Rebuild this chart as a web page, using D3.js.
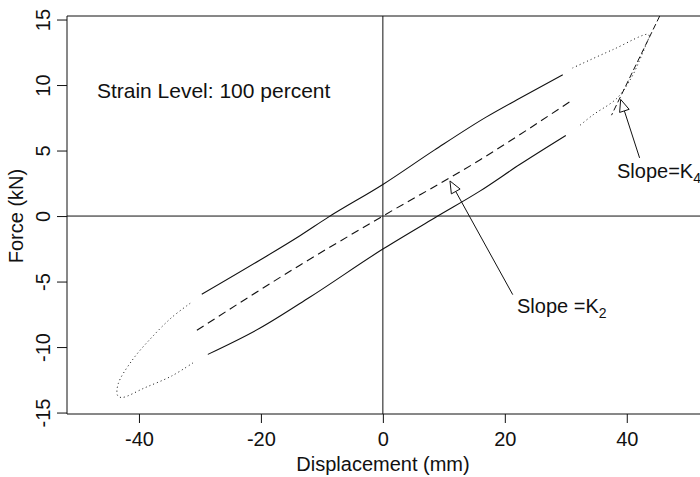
<!DOCTYPE html>
<html>
<head>
<meta charset="utf-8">
<script src="https://cdn.jsdelivr.net/npm/d3@7"></script>
<style>
  html, body { margin: 0; padding: 0; background: #fff; }
  svg { display: block; font-family: "Liberation Sans", Arial, Helvetica, sans-serif; }
</style>
</head>
<body>
<svg id="chart" width="700" height="477"></svg>
<script>
// Hysteresis loop of an elastomeric bearing, 100 % shear strain.
// Each branch is a list of [displacement (mm), force (kN)] points.
const xTicks = [-40, -20, 0, 20, 40];
const yTicks = [-15, -10, -5, 0, 5, 10, 15];

// solid middle portions of the loop
const upperBranch = [[-29.7,-5.97],[-20.2,-3.37],[-13.6,-1.5],[-9.0,-0.1],[0,2.41],[8.5,5.05],[17.0,7.57],[22.0,8.88],[29.5,10.79]];
const lowerBranch = [[-28.7,-10.56],[-20.2,-8.57],[-12.0,-6.2],[0,-2.52],[9.0,0],[15.9,1.9],[22.5,3.95],[30.0,6.15]];
// dotted loop ends (stiffening near peak displacement)
const rightTip = [[31.1,11.3],[37.7,12.7],[43.6,13.85],[43.0,12.9],[42.1,11.9],[40.8,10.6],[38.4,9.0],[34.4,7.7],[32.0,6.8]];
const leftTip = [[-31.6,-6.66],[-34.6,-7.73],[-37.9,-9.26],[-41.1,-11.0],[-43.4,-12.8],[-43.5,-13.7],[-42.8,-13.85],[-39.0,-13.1],[-34.6,-12.2],[-30.8,-11.1]];
// dashed secant line through the origin (K2)
const meanLine = [[-30.5,-8.72],[-13.6,-3.75],[0,0],[15.9,4.28],[30.7,8.74]];
// tangent at the loop tip (K4)
const k4Line = [[45.4,15.27],[37.5,7.7]];

// annotations: arrow tip, arrow tail, label anchor, label text, subscript
const notes = [
  { tip: [11.0, 2.68], tail: [21.3, -6.0], at: [22.0, -7.4], text: "Slope =K", sub: "2" },
  { tip: [39.0, 8.9],  tail: [42.1, 4.44], at: [38.4, 2.9],  text: "Slope=K",  sub: "4" }
];
const levelLabel = { at: [-46.9, 9.0], text: "Strain Level: 100 percent" };

const xDomain = [-51.8, 52.5];
const yDomain = [-15.11, 15.27];

const svg = d3.select("#chart");
const plotLeft = 67, plotRight = 703, plotTop = 16, plotBottom = 414;

const x = d3.scaleLinear().domain(xDomain).range([plotLeft, plotRight]);
const y = d3.scaleLinear().domain(yDomain).range([plotBottom, plotTop]);

svg.append("defs").append("clipPath").attr("id", "plot")
  .append("rect").attr("x", plotLeft).attr("y", plotTop)
  .attr("width", plotRight - plotLeft).attr("height", plotBottom - plotTop);

const ink = "#111";
const plain = d => String(d);   // ASCII hyphen for negatives

// axes
const xAxis = svg.append("g").attr("transform", `translate(0,${plotBottom})`)
  .call(d3.axisBottom(x).tickValues(xTicks).tickSize(9).tickFormat(plain));
xAxis.select(".domain").remove();
xAxis.selectAll("line").attr("stroke", ink);
xAxis.selectAll("text").attr("font-size", 20).attr("fill", ink).attr("font-family", null)
  .attr("dy", null).attr("y", 32);

const yAxis = svg.append("g").attr("transform", `translate(${plotLeft},0)`)
  .call(d3.axisLeft(y).tickValues(yTicks).tickSize(10).tickFormat(plain));
yAxis.select(".domain").remove();
yAxis.selectAll("line").attr("stroke", ink);
yAxis.selectAll("text").attr("font-size", 20).attr("fill", ink).attr("font-family", null)
  .attr("x", null).attr("dy", null).attr("text-anchor", "middle")
  .attr("transform", "translate(-17,0) rotate(-90)");

// frame
svg.append("path")
  .attr("d", `M${plotRight},${plotTop}H${plotLeft}V${plotBottom}H${plotRight}`)
  .attr("fill", "none").attr("stroke", ink).attr("stroke-width", 1);

// axis titles
svg.append("text").attr("x", (plotLeft + plotRight) / 2 - 2).attr("y", 471)
  .attr("text-anchor", "middle").attr("font-size", 20).attr("fill", ink)
  .text("Displacement (mm)");
svg.append("text").attr("transform", `translate(23,${y(0)}) rotate(-90)`)
  .attr("text-anchor", "middle").attr("font-size", 20).attr("fill", ink)
  .text("Force (kN)");

const plot = svg.append("g").attr("clip-path", "url(#plot)");

// zero reference lines
plot.append("line").attr("x1", plotLeft).attr("x2", plotRight).attr("y1", y(0)).attr("y2", y(0))
  .attr("stroke", ink).attr("stroke-width", 1);
plot.append("line").attr("x1", x(0)).attr("x2", x(0)).attr("y1", plotTop).attr("y2", plotBottom)
  .attr("stroke", ink).attr("stroke-width", 1);

const monotone = d3.line().x(d => x(d[0])).y(d => y(d[1])).curve(d3.curveMonotoneX);
const smooth = d3.line().x(d => x(d[0])).y(d => y(d[1])).curve(d3.curveCatmullRom.alpha(0.5));
const straight = d3.line().x(d => x(d[0])).y(d => y(d[1]));

const draw = (data, gen, dash, width) => plot.append("path").datum(data)
  .attr("d", gen).attr("fill", "none").attr("stroke", ink)
  .attr("stroke-width", width).attr("stroke-dasharray", dash);

draw(upperBranch, monotone, null, 1.1);
draw(lowerBranch, monotone, null, 1.1);
draw(rightTip, smooth, "1,3", 1);
draw(leftTip, smooth, "1,3", 1);
draw(meanLine, monotone, "8,5", 1.1);
draw(k4Line, straight, "6,3", 1);

// annotation arrows with open triangular heads
notes.forEach(n => {
  const tx = x(n.tip[0]), ty = y(n.tip[1]);
  const sx = x(n.tail[0]), sy = y(n.tail[1]);
  const len = Math.hypot(tx - sx, ty - sy);
  const ux = (tx - sx) / len, uy = (ty - sy) / len;
  const hl = 12, hw = 5;
  const bx = tx - ux * hl, by = ty - uy * hl;
  svg.append("line").attr("x1", sx).attr("y1", sy).attr("x2", bx).attr("y2", by)
    .attr("stroke", ink).attr("stroke-width", 1);
  svg.append("path")
    .attr("d", `M${tx},${ty}L${bx - uy * hw},${by + ux * hw}L${bx + uy * hw},${by - ux * hw}Z`)
    .attr("fill", "#fff").attr("stroke", ink).attr("stroke-width", 1);
  const t = svg.append("text").attr("x", x(n.at[0])).attr("y", y(n.at[1]))
    .attr("font-size", 20).attr("fill", ink).text(n.text);
  t.append("tspan").attr("font-size", 14).attr("dy", 5).text(n.sub);
});

svg.append("text").attr("x", x(levelLabel.at[0])).attr("y", y(levelLabel.at[1]))
  .attr("font-size", 21).attr("fill", ink).text(levelLabel.text);
</script>
</body>
</html>
